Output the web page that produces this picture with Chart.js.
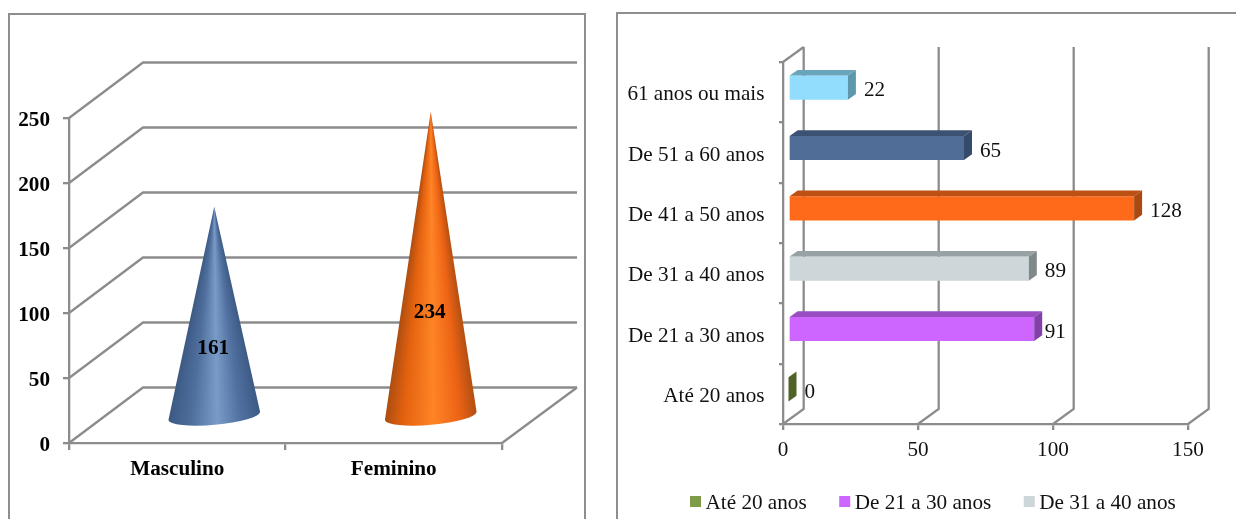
<!DOCTYPE html>
<html>
<head>
<meta charset="utf-8">
<style>
html,body{margin:0;padding:0;background:#fff;width:1236px;height:519px;overflow:hidden}
.frame{position:absolute;border:2px solid #8e8e8e;box-sizing:border-box;height:640px}
canvas{position:absolute;top:0;filter:blur(0.45px)}
</style>
<script src="https://cdn.jsdelivr.net/npm/chart.js@4"></script>
</head>
<body>
<div class="frame" style="left:8px;top:13px;width:578px"></div>
<div class="frame" style="left:616px;top:12px;width:700px"></div>
<canvas id="gender" width="600" height="519" style="left:0;width:600px;height:519px"></canvas>
<canvas id="age" width="636" height="519" style="left:600px;width:636px;height:519px"></canvas>
<script>
const genderCategories = ['Masculino', 'Feminino'];
const genderValues = [161, 234];
const genderMax = 250;
const genderStep = 50;

const ageCategories = ['Até 20 anos', 'De 21 a 30 anos', 'De 31 a 40 anos', 'De 41 a 50 anos', 'De 51 a 60 anos', '61 anos ou mais'];
const ageValues = [0, 91, 89, 128, 65, 22];
const ageMax = 150;
const ageStep = 50;

const coneStops = [
  [[0, '#3d5a84'], [0.25, '#4f6f9d'], [0.52, '#7a9bc7'], [0.78, '#5070a0'], [1, '#3c5a84']],
  [[0, '#ad4d11'], [0.2, '#e4620f'], [0.52, '#ff8426'], [0.8, '#ee6415'], [1, '#b34f12']]
];
const ageFront = ['#7f9b4a', '#cc66ff', '#cdd6d9', '#ff6a1a', '#4f6d96', '#92dcfd'];
const ageTop = ['#66803a', '#9a4dc0', '#98a1a4', '#bd5113', '#3c5272', '#68a5bd'];
const ageSide = ['#4f6228', '#8340a8', '#7f888b', '#a84a12', '#354b6b', '#5d97ac'];

const LINE = '#8c8c8c';
const LINE_WIDTH = 2.3;
const SERIF = '"Liberation Serif", "Times New Roman", serif';
const FONT_SIZE = 21.2;

class Cone3D extends Chart.BarController {
  draw() {
    const ctx = this.chart.ctx;
    const depthX = 37, tipUp = 27, baseUp = 26;
    this.getMeta().data.forEach((el, i) => {
      const cx = el.x + depthX, cy = el.base - baseUp, tipY = el.y - tipUp;
      const rx = el.width / 2, ry = 9, rot = -0.09;
      const lx = cx - rx * Math.cos(rot), ly = cy - rx * Math.sin(rot);
      const rX = cx + rx * Math.cos(rot), rY = cy + rx * Math.sin(rot);
      const aR = Math.atan2(rY - tipY, rX - cx), aL = Math.atan2(ly - tipY, lx - cx);
      const span = (aL - aR) / (2 * Math.PI);
      const grad = ctx.createConicGradient(aR, cx, tipY);
      const stops = coneStops[i];
      for (let k = stops.length - 1; k >= 0; k--) {
        grad.addColorStop((1 - stops[k][0]) * span, stops[k][1]);
      }
      grad.addColorStop(Math.min(span + 0.01, 1), stops[0][1]);
      grad.addColorStop(1, stops[stops.length - 1][1]);
      ctx.save();
      ctx.beginPath();
      ctx.moveTo(cx, tipY);
      ctx.lineTo(lx, ly);
      ctx.ellipse(cx, cy, rx, ry, rot, Math.PI, 0, true);
      ctx.closePath();
      ctx.fillStyle = grad;
      ctx.fill();
      ctx.restore();
      ctx.save();
      ctx.font = 'bold ' + FONT_SIZE + 'px ' + SERIF;
      ctx.fillStyle = '#000';
      ctx.textAlign = 'center';
      ctx.textBaseline = 'middle';
      ctx.fillText(String(this.getDataset().data[i]), cx - 1, cy + 12 - (cy - tipY) * 0.379);
      ctx.restore();
    });
  }
}
Cone3D.id = 'cone3d';
Cone3D.defaults = Chart.BarController.defaults;
Chart.register(Cone3D);

class Box3D extends Chart.BarController {
  draw() {
    const ctx = this.chart.ctx;
    const gapX = 5.5, gapY = 4.5, dx = 8, dy = 5.7;
    const data = this.getDataset().data;
    const poly = (c, pts) => {
      ctx.fillStyle = c;
      ctx.beginPath();
      pts.forEach((p, j) => j ? ctx.lineTo(p[0], p[1]) : ctx.moveTo(p[0], p[1]));
      ctx.closePath();
      ctx.fill();
    };
    this.getMeta().data.forEach((el, i) => {
      const l = el.base + gapX, r = el.x + gapX;
      const t = el.y - el.height / 2 - gapY, b = el.y + el.height / 2 - gapY;
      ctx.save();
      if (r - l > 0.5) {
        poly(ageFront[i], [[l, t], [r, t], [r, b], [l, b]]);
        poly(ageTop[i], [[l, t], [l + dx, t - dy], [r + dx, t - dy], [r, t]]);
      }
      poly(ageSide[i], [[r, t], [r + dx, t - dy], [r + dx, b - dy], [r, b]]);
      ctx.font = FONT_SIZE + 'px ' + SERIF;
      ctx.fillStyle = '#111';
      ctx.textAlign = 'left';
      ctx.textBaseline = 'middle';
      const nudge = data[i] === 91 ? 2.5 : 8;
      ctx.fillText(String(data[i]), r + dx + nudge, el.y - 1.5);
      ctx.restore();
    });
  }
}
Box3D.id = 'box3d';
Box3D.defaults = Chart.BarController.defaults;
Chart.register(Box3D);

const line = (ctx, pts) => {
  ctx.beginPath();
  pts.forEach((p, j) => j ? ctx.lineTo(p[0], p[1]) : ctx.moveTo(p[0], p[1]));
  ctx.stroke();
};

const coneWalls = {
  id: 'coneWalls',
  beforeDatasetsDraw(chart) {
    const { ctx, chartArea: a } = chart, y = chart.scales.y;
    const dx = 74, dy = 55.5, backRight = a.right + 75;
    ctx.save();
    ctx.strokeStyle = LINE;
    ctx.lineWidth = LINE_WIDTH;
    y.ticks.forEach(t => {
      const py = y.getPixelForValue(t.value);
      line(ctx, [[a.left, py], [a.left + dx, py - dy], [backRight, py - dy]]);
    });
    line(ctx, [[a.right, a.bottom], [backRight, a.bottom - dy]]);
    ctx.restore();
  }
};

const boxWalls = {
  id: 'boxWalls',
  beforeDatasetsDraw(chart) {
    const { ctx, chartArea: a } = chart, x = chart.scales.x;
    const dx = 20.7, dy = 15;
    ctx.save();
    ctx.strokeStyle = LINE;
    ctx.lineWidth = LINE_WIDTH;
    x.ticks.forEach((t, i) => {
      const px = x.getPixelForValue(t.value);
      line(ctx, [[px, a.bottom], [px + dx, a.bottom - dy], [px + dx, a.top - dy]]);
      if (i === 0) line(ctx, [[px, a.top], [px + dx, a.top - dy]]);
    });
    ctx.restore();
  }
};

const boxLegend = {
  id: 'boxLegend',
  afterDraw(chart) {
    const { ctx, width } = chart;
    let px = 90, py = 503;
    ctx.save();
    ctx.font = FONT_SIZE + 'px ' + SERIF;
    ctx.textBaseline = 'middle';
    ctx.textAlign = 'left';
    ageCategories.forEach((c, i) => {
      const w = ctx.measureText(c).width;
      if (px + 16 + w > width) { px = 90; py += 30; }
      ctx.fillStyle = ageFront[i];
      ctx.fillRect(px, py - 7, 11, 11);
      ctx.fillStyle = '#111';
      ctx.fillText(c, px + 15.5, py);
      px += 16 + w + 32;
    });
    ctx.restore();
  }
};

new Chart(document.getElementById('gender'), {
  type: 'cone3d',
  data: { labels: genderCategories, datasets: [{ data: genderValues, barPercentage: 0.425, categoryPercentage: 1, clip: false }] },
  plugins: [coneWalls],
  options: {
    responsive: false, animation: false,
    layout: { padding: { left: 0, top: 118, right: 98, bottom: 0 } },
    plugins: { legend: { display: false }, tooltip: { enabled: false } },
    scales: {
      x: {
        type: 'category',
        afterFit(s) { s.height = 76; },
        border: { color: LINE, width: LINE_WIDTH },
        grid: { offset: true, drawOnChartArea: false, tickLength: 7, color: LINE, lineWidth: LINE_WIDTH },
        ticks: { color: '#000', padding: 6.5, maxRotation: 0, font: { family: SERIF, size: FONT_SIZE, weight: 'bold' } }
      },
      y: {
        type: 'linear', min: 0, max: genderMax,
        afterFit(s) { s.width = 69; },
        border: { color: LINE, width: LINE_WIDTH },
        grid: { drawOnChartArea: false, tickLength: 6, color: LINE, lineWidth: LINE_WIDTH },
        ticks: { stepSize: genderStep, color: '#000', padding: 13, labelOffset: 2.5, font: { family: SERIF, size: FONT_SIZE, weight: 'bold' } }
      }
    }
  }
});

new Chart(document.getElementById('age'), {
  type: 'box3d',
  data: { labels: ageCategories, datasets: [{ data: ageValues, barPercentage: 0.4, categoryPercentage: 1, clip: false }] },
  plugins: [boxWalls, boxLegend],
  options: {
    indexAxis: 'y',
    responsive: false, animation: false,
    layout: { padding: { left: 0, top: 62, right: 48, bottom: 0 } },
    plugins: { legend: { display: false }, tooltip: { enabled: false } },
    scales: {
      y: {
        type: 'category', reverse: true,
        afterFit(s) { s.width = 183; },
        border: { color: LINE, width: LINE_WIDTH },
        grid: { offset: true, drawOnChartArea: false, tickLength: 4, color: LINE, lineWidth: LINE_WIDTH },
        ticks: { color: '#111', padding: 14.5, labelOffset: 2.5, font: { family: SERIF, size: FONT_SIZE } }
      },
      x: {
        type: 'linear', min: 0, max: ageMax,
        afterFit(s) { s.height = 95; },
        border: { color: LINE, width: LINE_WIDTH },
        grid: { drawOnChartArea: false, tickLength: 6, color: LINE, lineWidth: LINE_WIDTH },
        ticks: { stepSize: ageStep, color: '#111', padding: 8, maxRotation: 0, font: { family: SERIF, size: FONT_SIZE } }
      }
    }
  }
});
</script>
</body>
</html>
